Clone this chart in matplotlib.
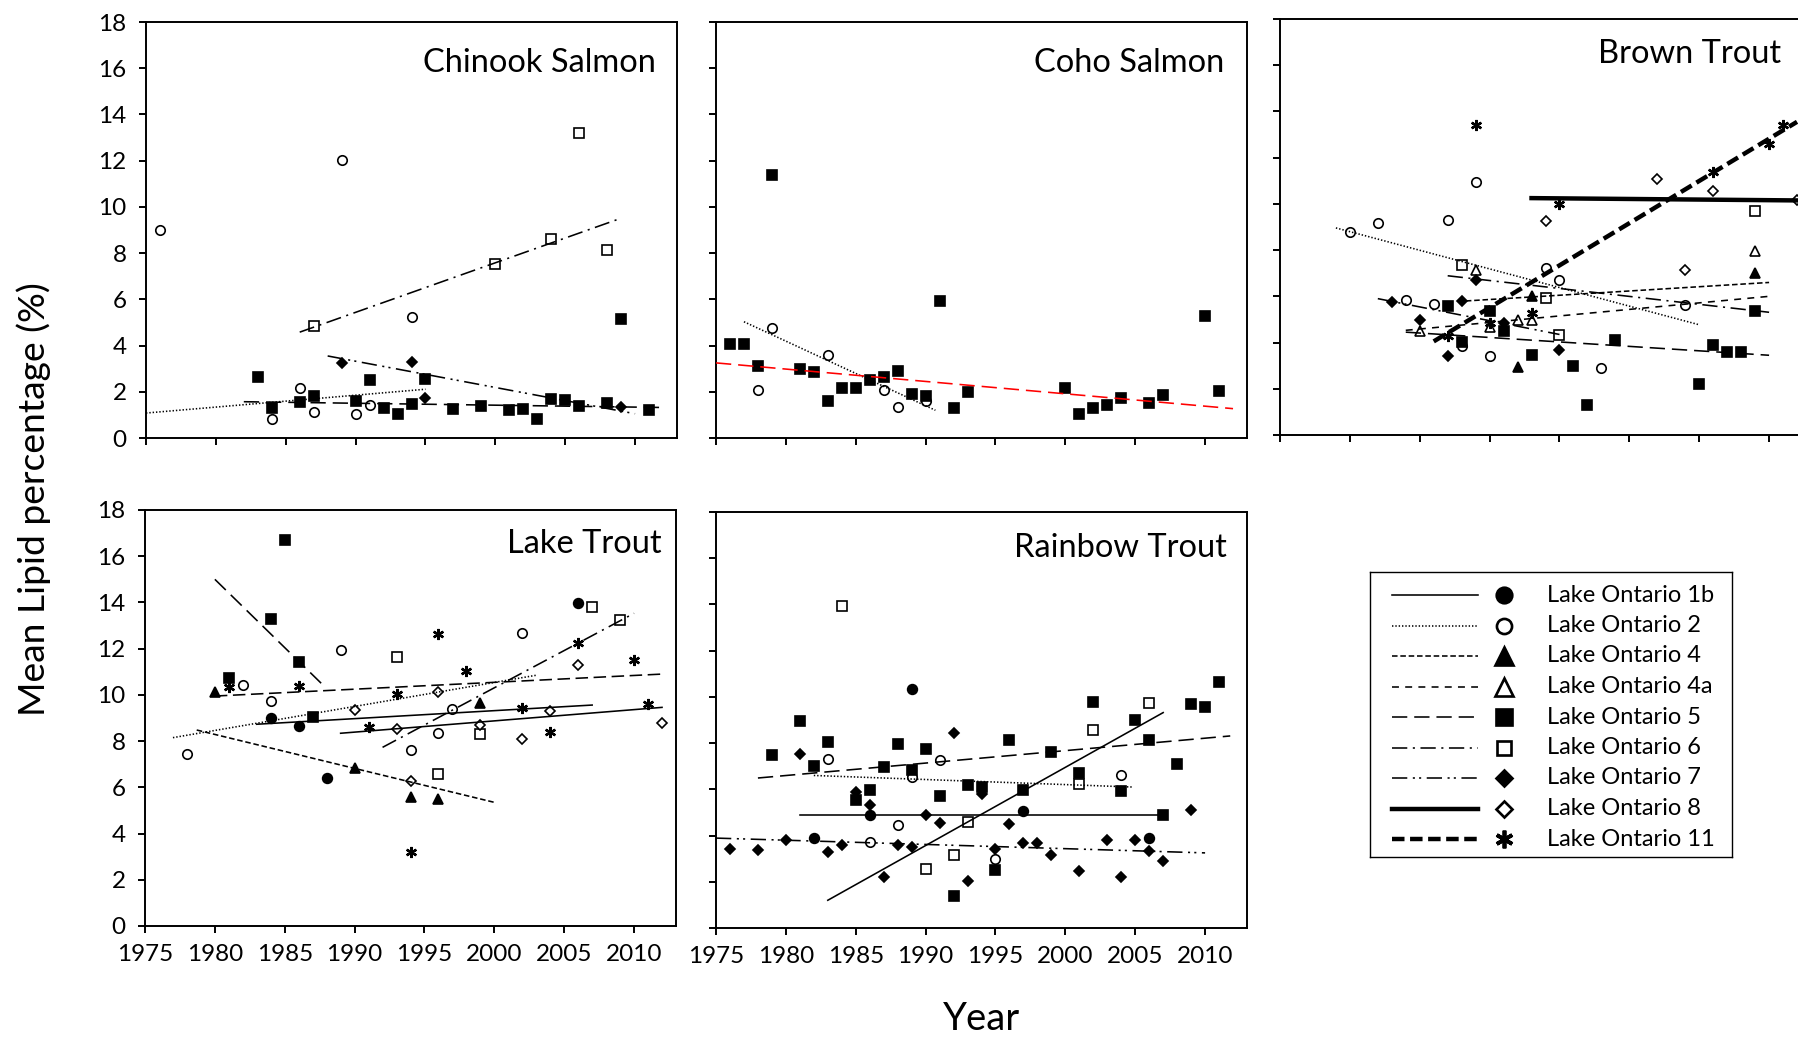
import matplotlib.pyplot as plt

plt.rcParams['font.family'] = ['Lato', 'DejaVu Sans']
plt.rcParams['lines.scale_dashes'] = False

W, H = 1799, 1038

SITES = ['1b', '2', '4', '4a', '5', '6', '7', '8', '11']
SITE_LABELS = ['Lake Ontario ' + s for s in SITES]
YEAR_TICKS = [1975, 1980, 1985, 1990, 1995, 2000, 2005, 2010]
LIPID_TICKS = [0, 2, 4, 6, 8, 10, 12, 14, 16, 18]

# mean lipid (%) by year and site; fits are (site, (year0, year1), (lipid0, lipid1))
chinook_pts = {
    '2': ([1976, 1984, 1986, 1987, 1989, 1990, 1991, 1994],
          [9.0, 0.84, 2.17, 1.13, 12.04, 1.04, 1.42, 5.22]),
    '5': ([1983, 1984, 1986, 1987, 1990, 1991, 1992, 1993, 1994, 1995, 1997, 1999,
           2001, 2002, 2003, 2004, 2005, 2006, 2008, 2009, 2011],
          [2.63, 1.30, 1.55, 1.80, 1.59, 2.53, 1.30, 1.03, 1.49, 2.57, 1.24, 1.40,
           1.20, 1.24, 0.81, 1.68, 1.63, 1.37, 1.52, 5.13, 1.20]),
    '6': ([1987, 2000, 2004, 2006, 2008], [4.84, 7.51, 8.6, 13.2, 8.14]),
    '7': ([1989, 1994, 1995, 2009], [3.25, 3.28, 1.71, 1.34]),
}
chinook_fits = [
    ('2', (1975, 1995), (1.08, 2.11)),
    ('5', (1982, 2012), (1.57, 1.32)),
    ('6', (1986, 2009), (4.58, 9.51)),
    ('7', (1988, 2010), (3.55, 1.05)),
]

coho_pts = {
    '2': ([1978, 1979, 1983, 1987, 1988, 1990], [2.07, 4.74, 3.57, 2.07, 1.32, 1.60]),
    '5': ([1976, 1977, 1978, 1979, 1981, 1982, 1983, 1984, 1985, 1986, 1987, 1988, 1989,
           1990, 1991, 1992, 1993, 2000, 2001, 2002, 2003, 2004, 2006, 2007, 2010, 2011],
          [4.05, 4.08, 3.11, 11.36, 2.99, 2.86, 1.60, 2.18, 2.18, 2.5, 2.64, 2.88, 1.92,
           1.81, 5.92, 1.30, 1.99, 2.18, 1.03, 1.31, 1.43, 1.73, 1.52, 1.88, 5.29, 2.02]),
}
coho_fits = [
    ('2', (1977, 1990.7), (5.03, 1.2)),
    ('5', (1975, 2012), (3.25, 1.27)),
]

brown_pts = {
    '2': ([1980, 1982, 1984, 1986, 1987, 1988, 1989, 1990, 1994, 1995, 1998, 2004],
          [8.78, 9.17, 5.85, 5.68, 9.32, 3.84, 10.95, 3.4, 7.22, 6.72, 2.9, 5.64]),
    '4': ([1992, 1993, 2009], [2.94, 6.0, 7.01]),
    '4a': ([1985, 1989, 1990, 1992, 1993, 2009], [4.48, 7.12, 4.67, 4.96, 4.99, 7.97]),
    '5': ([1987, 1988, 1990, 1991, 1993, 1996, 1997, 1999, 2005, 2006, 2007, 2008, 2009],
          [5.57, 4.01, 5.35, 4.48, 3.45, 3.0, 1.31, 4.09, 2.22, 3.91, 3.58, 3.59, 5.35]),
    '6': ([1988, 1994, 1995, 2009], [7.37, 5.93, 4.31, 9.68]),
    '7': ([1983, 1985, 1987, 1988, 1989, 1991, 1995], [5.74, 4.99, 3.4, 5.81, 6.72, 4.85, 3.69]),
    '8': ([1994, 2002, 2004, 2006, 2012], [9.24, 11.09, 7.15, 10.54, 10.15]),
    '11': ([1987, 1989, 1990, 1993, 1995, 2006, 2010, 2011],
           [4.27, 13.43, 4.84, 5.28, 10.01, 11.38, 12.59, 13.43]),
}
brown_fits = [
    ('2', (1979, 2005), (8.96, 4.77)),
    ('4', (1988.3, 2010), (5.8, 6.6)),
    ('4a', (1984, 2010), (4.53, 6.0)),
    ('5', (1984, 2010), (4.45, 3.45)),
    ('6', (1987, 2010), (6.89, 5.31)),
    ('7', (1982, 1995), (5.9, 4.35)),
    ('8', (1993, 2012), (10.25, 10.15)),
    ('11', (1986, 2012), (4.05, 13.55)),
]

lake_pts = {
    '1b': ([1984, 1986, 1988, 2006], [8.99, 8.65, 6.39, 13.99]),
    '2': ([1978, 1982, 1984, 1989, 1994, 1996, 1997, 2002],
          [7.44, 10.43, 9.75, 11.94, 7.62, 8.37, 9.38, 12.66]),
    '4': ([1980, 1990, 1994, 1996, 1999], [10.13, 6.82, 5.6, 5.48, 9.66]),
    '5': ([1981, 1984, 1985, 1986, 1987], [10.73, 13.27, 16.70, 11.41, 9.06]),
    '6': ([1993, 1996, 1999, 2007, 2009], [11.64, 6.58, 8.29, 13.79, 13.24]),
    '8': ([1990, 1993, 1994, 1996, 1999, 2002, 2004, 2006, 2012],
          [9.33, 8.54, 6.29, 10.14, 8.68, 8.11, 9.32, 11.31, 8.8]),
    '11': ([1981, 1986, 1991, 1993, 1994, 1996, 1998, 2002, 2004, 2006, 2010, 2011],
           [10.36, 10.4, 8.63, 10.02, 3.22, 12.62, 11.05, 9.42, 8.41, 12.26, 11.51, 9.61]),
}
lake_fits = [
    ('5', (1980, 1987.8), (15.0, 10.39)),
    ('4', (1978.7, 2000), (8.48, 5.35)),
    ('11', (1980, 2012), (9.95, 10.9)),
    ('2', (1977, 2003), (8.15, 10.85)),
    ('1b', (1983, 2007), (8.73, 9.56)),
    ('8', (1989, 2012), (8.34, 9.46)),
    ('6', (1992, 2010), (7.73, 13.53)),
]

rainbow_pts = {
    '1b': ([1982, 1986, 1989, 1997, 2006], [3.89, 4.88, 10.33, 5.05, 3.91]),
    '2': ([1983, 1986, 1988, 1989, 1991, 1995, 2004], [7.33, 3.72, 4.44, 6.53, 7.28, 2.99, 6.61]),
    '5': ([1979, 1981, 1982, 1983, 1985, 1986, 1987, 1988, 1989, 1990, 1991, 1992, 1993, 1994,
           1995, 1996, 1997, 1999, 2001, 2002, 2004, 2005, 2006, 2007, 2008, 2009, 2010, 2011],
          [7.49, 8.97, 7.0, 8.06, 5.55, 5.99, 6.97, 7.98, 6.82, 7.73, 5.71, 1.37, 6.17, 6.1,
           2.5, 8.12, 5.99, 7.62, 6.72, 9.78, 5.93, 9.01, 8.15, 4.88, 7.11, 9.68, 9.56, 10.64]),
    '6': ([1984, 1990, 1992, 1993, 2001, 2002, 2006], [13.95, 2.54, 3.14, 4.57, 6.22, 8.55, 9.74]),
    '7': ([1976, 1978, 1980, 1981, 1983, 1984, 1985, 1986, 1987, 1988, 1989, 1990, 1991, 1992,
           1993, 1994, 1995, 1996, 1997, 1998, 1999, 2001, 2003, 2004, 2005, 2006, 2007, 2009],
          [3.42, 3.39, 3.82, 7.54, 3.29, 3.61, 5.9, 5.31, 2.19, 3.58, 3.5, 4.88, 4.56, 8.45,
           2.02, 5.81, 3.42, 4.51, 3.69, 3.68, 3.14, 2.45, 3.79, 2.21, 3.79, 3.33, 2.9, 5.12]),
}
rainbow_fits = [
    ('5', (1978, 2011.8), (6.49, 8.31)),
    ('2', (1982, 2004.8), (6.6, 6.1)),
    ('1b', (1981, 2006.8), (4.88, 4.88)),
    ('1b', (1983, 2007), (1.2, 9.32)),
    ('7', (1975, 2010), (3.89, 3.25)),
]

# marker per site: (marker, face colour, size in pt)
MARKERS = {
    '1b': ('o', 'black', 7.0), '2': ('o', 'white', 6.8),
    '4': ('^', 'black', 7.8), '4a': ('^', 'white', 7.8),
    '5': ('s', 'black', 6.9), '6': ('s', 'white', 6.5),
    '7': ('D', 'black', 5.0), '8': ('D', 'white', 5.0),
    '11': ((6, 2, 0), 'black', 8.0),
}
DASHES = {
    '1b': '-', '2': (0, (1, 1.4)), '4': (0, (4, 2)), '4a': (0, (5, 4.5)),
    '5': (0, (11, 5)), '6': (0, (11, 4, 1.5, 4)), '7': (0, (11, 4, 1.5, 3, 1.5, 4)),
    '8': '-', '11': (0, (9, 4)),
}
THIN, THICK = 1.15, 3.2


def px_axes(left, top, right, bottom):
    return fig.add_axes([left / W, 1 - bottom / H, (right - left) / W, (bottom - top) / H])


def draw_site(ax, key, xs, ys, scale=1.0):
    m, face, size = MARKERS[key]
    ax.plot(xs, ys, ls='none', marker=m, mfc=face, mec='black',
            ms=size * scale, mew=(1.7 if key == '11' else 1.2) * scale, zorder=2)


fig = plt.figure(figsize=(W / 100, H / 100), dpi=100)

panels = [
    ('Chinook Salmon', chinook_pts, chinook_fits, (146, 22, 677, 438), (0.960, 0.901)),
    ('Coho Salmon', coho_pts, coho_fits, (716, 22, 1247, 438), (0.958, 0.901)),
    ('Brown Trout', brown_pts, brown_fits, (1280, 19, 1811, 435), (0.943, 0.917)),
    ('Lake Trout', lake_pts, lake_fits, (145, 510, 676, 926), (0.972, 0.918)),
    ('Rainbow Trout', rainbow_pts, rainbow_fits, (716, 512, 1247, 928), (0.962, 0.913)),
]

for i, (name, pts, fits, box, title_xy) in enumerate(panels):
    ax = px_axes(*box)
    for key, (xs, ys) in pts.items():
        draw_site(ax, key, xs, ys)
    for key, xr, yr in fits:
        thick = name == 'Brown Trout' and key in ('8', '11')
        color = 'red' if (name == 'Coho Salmon' and key == '5') else 'black'
        ax.plot(xr, yr, ls=DASHES[key], lw=THICK if thick else THIN,
                color=color, dash_capstyle='butt', zorder=3)
    ax.set_xlim(1975, 2013)
    ax.set_ylim(0, 18)
    ax.set_xticks(YEAR_TICKS)
    ax.set_yticks(LIPID_TICKS)
    ax.tick_params(direction='out', length=5, width=1.4, labelsize=17.5, pad=8)
    ax.tick_params(axis='y', pad=9)
    if i not in (3, 4):
        ax.tick_params(axis='x', labelbottom=False)
    if i not in (0, 3):
        ax.tick_params(axis='y', labelleft=False)
    for sp in ax.spines.values():
        sp.set_linewidth(1.4)
    ax.text(title_xy[0], title_xy[1], name, transform=ax.transAxes,
            ha='right', va='center', fontsize=23.5)

# legend box
lax = px_axes(1370, 572, 1732, 857)
lax.set_xlim(1370, 1732)
lax.set_ylim(857, 572)
lax.set_xticks([])
lax.set_yticks([])
for sp in lax.spines.values():
    sp.set_linewidth(1.0)
for j, (key, label) in enumerate(zip(SITES, SITE_LABELS)):
    y = 595 + j * 30.5
    lax.plot([1392, 1478], [y, y], ls=DASHES[key], lw=THICK if key in ('8', '11') else THIN,
             color='black', dash_capstyle='butt')
    draw_site(lax, key, [1504], [y], scale=1.6)
    lax.text(1547, y, label, va='center', ha='left', fontsize=17)

fig.text(34 / W, 1 - 499 / H, 'Mean Lipid percentage (%)', rotation=90,
         ha='center', va='center', fontsize=26.8)
fig.text(981 / W, 1 - 1019 / H, 'Year', ha='center', va='center', fontsize=27.5)

fig.savefig('out.png', dpi=100)
